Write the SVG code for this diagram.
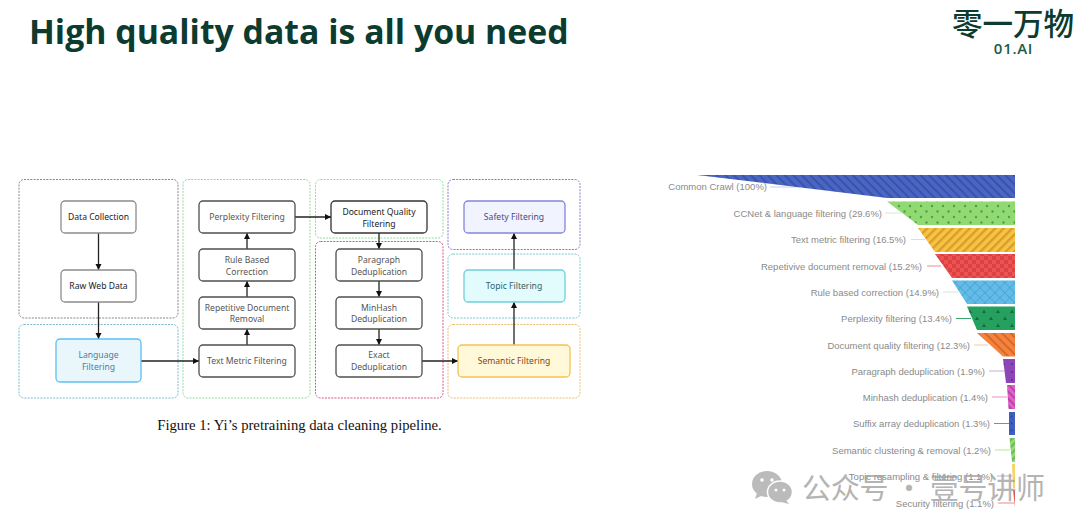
<svg xmlns="http://www.w3.org/2000/svg" width="1080" height="532" viewBox="0 0 1080 532">
<style>
.grp{fill:none;stroke-width:1;stroke-dasharray:2 1.2}
.n{fill:#fff;stroke:#4f4f4f;stroke-width:1.3}
.t{font-family:"Noto Sans","DejaVu Sans",sans-serif;font-size:8.6px;text-anchor:middle;fill:#555}
.c{fill:none;stroke:#222;stroke-width:1.3;marker-end:url(#arr)}
.l{font-family:"Liberation Sans",Arial,sans-serif;font-size:9.5px;text-anchor:end;fill:#8a8a8a}
.ll{fill:none;stroke-width:1}
</style>
<defs>
<marker id="arr" markerUnits="userSpaceOnUse" markerWidth="7" markerHeight="7" refX="6" refY="3" orient="auto"><path d="M0 0L6 3L0 6Z" fill="#111"/></marker>
<pattern id="p1" width="6" height="6" patternUnits="userSpaceOnUse" patternTransform="rotate(45)"><rect width="6" height="6" fill="#4a66c4"/><rect width="6" height="2" fill="#3a52a8"/></pattern>
<pattern id="p2" width="11" height="11" patternUnits="userSpaceOnUse"><rect width="11" height="11" fill="#91da72"/><circle cx="2.500" cy="2.500" r="1.200" fill="#4f9f4f"/><circle cx="8" cy="8" r="1.200" fill="#4f9f4f"/></pattern>
<pattern id="p3" width="6" height="6" patternUnits="userSpaceOnUse" patternTransform="rotate(45)"><rect width="6" height="6" fill="#f6c445"/><rect width="2.400" height="6" fill="#dc9d28"/></pattern>
<pattern id="p4" width="8" height="8" patternUnits="userSpaceOnUse"><rect width="8" height="8" fill="#ee5252"/><rect width="4" height="4" fill="#d94343"/><rect x="4" y="4" width="4" height="4" fill="#d94343"/></pattern>
<pattern id="p5" width="7" height="7" patternUnits="userSpaceOnUse" patternTransform="rotate(45)"><rect width="7" height="7" fill="#62bce8"/><path d="M0 0H7M0 0V7" stroke="#3f93c4" stroke-width="1"/></pattern>
<pattern id="p6" width="14" height="14" patternUnits="userSpaceOnUse"><rect width="14" height="14" fill="#25a05e"/><path d="M2 5L4 1.500L6 5ZM9 12L11 8.500L13 12Z" fill="#146b3d"/></pattern>
<pattern id="p7" width="6" height="6" patternUnits="userSpaceOnUse" patternTransform="rotate(45)"><rect width="6" height="6" fill="#f6833c"/><rect width="6" height="2" fill="#d5682a"/></pattern>
<pattern id="p8" width="8" height="8" patternUnits="userSpaceOnUse"><rect width="8" height="8" fill="#8c46b8"/><circle cx="4" cy="4" r="1" fill="#5f2c88"/></pattern>
<pattern id="p9" width="5" height="5" patternUnits="userSpaceOnUse" patternTransform="rotate(-45)"><rect width="5" height="5" fill="#e062c8"/><rect width="2" height="5" fill="#b844a4"/></pattern>
<pattern id="p10" width="7" height="7" patternUnits="userSpaceOnUse"><rect width="7" height="7" fill="#3f5fc0"/><circle cx="3.500" cy="3.500" r="1" fill="#2a4394"/></pattern>
<pattern id="p11" width="5" height="5" patternUnits="userSpaceOnUse" patternTransform="rotate(45)"><rect width="5" height="5" fill="#91da72"/><rect width="1.600" height="5" fill="#62ad55"/></pattern>
</defs>
<rect width="1080" height="532" fill="#fff"/>

<g id="title"><text x="29" y="43.500" font-family="'Open Sans','Noto Sans',sans-serif" font-weight="700" font-size="33.800" fill="#0c3b30">High quality data is all you need</text></g>
<g id="logo">
<text x="1013" y="35" text-anchor="middle" font-family="'Noto Sans CJK SC',sans-serif" font-weight="500" font-size="30.500" fill="#0c3b30">零一万物</text>
<text x="1013.500" y="54" text-anchor="middle" font-family="'Open Sans','Noto Sans',sans-serif" font-weight="600" font-size="15" letter-spacing="0.700" fill="#1c5a4a">01.AI</text>
</g>

<g id="stage-groups">
<rect class="grp" x="19" y="179.500" width="159" height="138.500" rx="5" stroke="#85858e"/>
<rect class="grp" x="19" y="324.500" width="159" height="73.500" rx="5" stroke="#7ab8d4"/>
<rect class="grp" x="183" y="179.500" width="127" height="218.500" rx="5" stroke="#8fdc9a"/>
<rect class="grp" x="315.500" y="179.500" width="127.500" height="58.500" rx="5" stroke="#8fdc9a"/>
<rect class="grp" x="315.500" y="241.500" width="127.500" height="156.500" rx="5" stroke="#d9558f"/>
<rect class="grp" x="448" y="179.500" width="132" height="70" rx="5" stroke="#8a78d0"/>
<rect class="grp" x="448" y="254" width="132" height="64" rx="5" stroke="#78c8cc"/>
<rect class="grp" x="448" y="324.500" width="132" height="73.500" rx="5" stroke="#e8bd6c"/>
</g>

<g id="connectors">
<path class="c" d="M98.500 233V270"/>
<path class="c" d="M98.500 302V339"/>
<path class="c" d="M141 361H199"/>
<path class="c" d="M247 345V329"/>
<path class="c" d="M247 297V281"/>
<path class="c" d="M247 249V233"/>
<path class="c" d="M295 217H331"/>
<path class="c" d="M379 233V249"/>
<path class="c" d="M379 281V297"/>
<path class="c" d="M379 329V345"/>
<path class="c" d="M422 361H458"/>
<path class="c" d="M514 345V302"/>
<path class="c" d="M514 270V233"/>
</g>

<g id="data-collection"><rect class="n" x="61" y="201" width="75" height="32" rx="4" style="stroke:#8c8c8c"/><text class="t" x="98.500" y="220" style="fill:#222">Data Collection</text></g>
<g id="raw-web-data"><rect class="n" x="61" y="270" width="75" height="32" rx="4" style="stroke:#8c8c8c"/><text class="t" x="98.500" y="289" style="fill:#222">Raw Web Data</text></g>
<g id="language-filtering"><rect class="n" x="56" y="339" width="85" height="43" rx="4" style="fill:#e9f7fd;stroke:#5cc0ee"/><text class="t" x="98.500" y="358" style="fill:#4d7d9a">Language</text><text class="t" x="98.500" y="370" style="fill:#4d7d9a">Filtering</text></g>
<g id="text-metric"><rect class="n" x="199" y="345" width="96" height="32" rx="4"/><text class="t" x="247" y="364">Text Metric Filtering</text></g>
<g id="repetitive"><rect class="n" x="199" y="297" width="96" height="32" rx="4"/><text class="t" x="247" y="311">Repetitive Document</text><text class="t" x="247" y="322">Removal</text></g>
<g id="rule-based"><rect class="n" x="199" y="249" width="96" height="32" rx="4"/><text class="t" x="247" y="263">Rule Based</text><text class="t" x="247" y="274.500">Correction</text></g>
<g id="perplexity"><rect class="n" x="199" y="201" width="96" height="32" rx="4"/><text class="t" x="247" y="220">Perplexity Filtering</text></g>
<g id="document-quality"><rect class="n" x="331" y="201" width="96" height="32" rx="4" style="stroke:#333"/><text class="t" x="379" y="215" style="fill:#222">Document Quality</text><text class="t" x="379" y="226.500" style="fill:#222">Filtering</text></g>
<g id="paragraph"><rect class="n" x="336" y="249" width="86" height="32" rx="4"/><text class="t" x="379" y="263">Paragraph</text><text class="t" x="379" y="274.500">Deduplication</text></g>
<g id="minhash"><rect class="n" x="336" y="297" width="86" height="32" rx="4"/><text class="t" x="379" y="311">MinHash</text><text class="t" x="379" y="322">Deduplication</text></g>
<g id="exact"><rect class="n" x="336" y="345" width="86" height="32" rx="4"/><text class="t" x="379" y="358">Exact</text><text class="t" x="379" y="370">Deduplication</text></g>
<g id="safety"><rect class="n" x="464" y="201" width="101" height="32" rx="4" style="fill:#f1f4ff;stroke:#8584dc"/><text class="t" x="514" y="220" style="fill:#414c80">Safety Filtering</text></g>
<g id="topic"><rect class="n" x="464" y="270" width="101" height="32" rx="4" style="fill:#e2fbfd;stroke:#6fd0d8"/><text class="t" x="514" y="289" style="fill:#2f5f68">Topic Filtering</text></g>
<g id="semantic"><rect class="n" x="458" y="345" width="112" height="32" rx="4" style="fill:#fff9d9;stroke:#f6c250"/><text class="t" x="514" y="364" style="fill:#8c3d12">Semantic Filtering</text></g>

<text x="299.500" y="430" text-anchor="middle" font-family="'Liberation Serif',serif" font-size="14.700" fill="#111">Figure 1: Yi’s pretraining data cleaning pipeline.</text>

<g id="funnel-leaders">
<path class="ll" stroke="#c6cfe8" d="M770 187H800"/>
<path class="ll" stroke="#d8e8cf" d="M885 213H902"/>
<path class="ll" stroke="#f6e08e" d="M911 239.500H925"/>
<path class="ll" stroke="#f08c8c" d="M927 266H941"/>
<path class="ll" stroke="#dde2e6" d="M943 292H958"/>
<path class="ll" stroke="#3aa56e" d="M956 318.500H971"/>
<path class="ll" stroke="#f7c8a8" d="M974 345H988"/>
<path class="ll" stroke="#c9a8d8" d="M989 371H1004"/>
<path class="ll" stroke="#f08cd4" d="M992 397H1007"/>
<path class="ll" stroke="#8a8a94" d="M994 423.500H1009"/>
<path class="ll" stroke="#b0ec98" d="M995 450H1010"/>
<path class="ll" stroke="#b8b8b8" d="M997 476H1012"/>
<path class="ll" stroke="#e88a8a" d="M998 503H1014"/>
</g>
<g id="funnel">
<path fill="url(#p1)" d="M697 175H1015V198H887Z"/>
<path fill="url(#p2)" d="M887 201.500H1015V225H918Z"/>
<path fill="url(#p3)" d="M918 228H1015V252H935Z"/>
<path fill="url(#p4)" d="M935 254H1015V278H952Z"/>
<path fill="url(#p5)" d="M952 280.500H1015V304H967Z"/>
<path fill="url(#p6)" d="M967 306.500H1015V330H977Z"/>
<path fill="url(#p7)" d="M977 333H1015V356.500H1003Z"/>
<path fill="url(#p8)" d="M1003 359H1015V383H1006Z"/>
<path fill="url(#p9)" d="M1007 385H1015V409H1008.500Z"/>
<path fill="url(#p10)" d="M1009 412H1015V435H1009Z"/>
<path fill="url(#p11)" d="M1009.500 438H1015V462H1012Z"/>
<path fill="#f5d368" d="M1012 464H1015V488H1013Z"/>
<path fill="#e25a4f" d="M1013 490H1015V507H1015Z"/>
</g>
<g id="funnel-labels">
<text class="l" x="767" y="190">Common Crawl (100%)</text>
<text class="l" x="882" y="216.500">CCNet &amp; language filtering (29.6%)</text>
<text class="l" x="906" y="243">Text metric filtering (16.5%)</text>
<text class="l" x="922" y="269.500">Repetivive document removal (15.2%)</text>
<text class="l" x="939" y="295.500">Rule based correction (14.9%)</text>
<text class="l" x="952" y="322">Perplexity filtering (13.4%)</text>
<text class="l" x="970" y="348.500">Document quality filtering (12.3%)</text>
<text class="l" x="985" y="374.500">Paragraph deduplication (1.9%)</text>
<text class="l" x="988" y="400.500">Minhash deduplication (1.4%)</text>
<text class="l" x="990" y="427">Suffix array deduplication (1.3%)</text>
<text class="l" x="991" y="453.500">Semantic clustering &amp; removal (1.2%)</text>
<text class="l" x="993" y="479.500">Topic resampling &amp; filtering (1.1%)</text>
<text class="l" x="994" y="506.500">Security filtering (1.1%)</text>
</g>

<g id="watermark" opacity="0.78">
<ellipse cx="767" cy="484" rx="15" ry="13" fill="#a8a8a8"/>
<path d="M757 493L755 499L763 495Z" fill="#a8a8a8"/>
<ellipse cx="780" cy="492" rx="12.500" ry="11" fill="#a8a8a8" stroke="#fff" stroke-width="1.500"/>
<path d="M786 500L789 504L781 502Z" fill="#a8a8a8"/>
<circle cx="762" cy="480" r="1.800" fill="#fff"/><circle cx="772" cy="480" r="1.800" fill="#fff"/>
<circle cx="776" cy="490" r="1.500" fill="#fff"/><circle cx="784" cy="490" r="1.500" fill="#fff"/>
<text x="802" y="499" font-family="'Noto Sans CJK SC',sans-serif" font-size="29" fill="#a0a0a0" textLength="243" lengthAdjust="spacing">公众号 · 壹号讲师</text>
</g>
</svg>
